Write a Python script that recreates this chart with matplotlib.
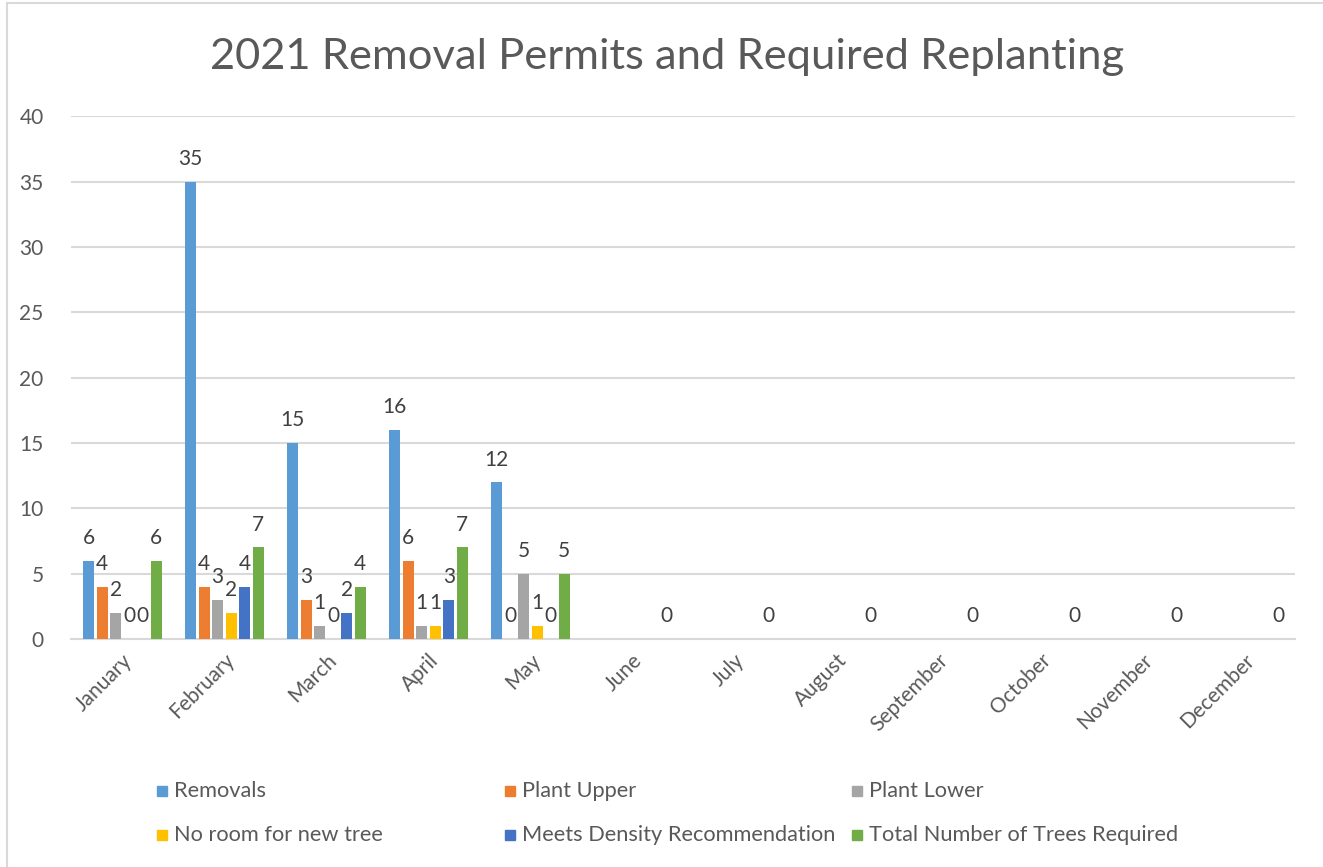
import numpy as np
import matplotlib.pyplot as plt
from matplotlib.patches import Rectangle

plt.rcParams['font.family'] = ['Lato', 'DejaVu Sans']

months = ['January', 'February', 'March', 'April', 'May', 'June', 'July',
          'August', 'September', 'October', 'November', 'December']
nan = np.nan
removals = [6, 35, 15, 16, 12, nan, nan, nan, nan, nan, nan, nan]
plant_upper = [4, 4, 3, 6, 0, nan, nan, nan, nan, nan, nan, nan]
plant_lower = [2, 3, 1, 1, 5, nan, nan, nan, nan, nan, nan, nan]
no_room = [0, 2, 0, 1, 1, nan, nan, nan, nan, nan, nan, nan]
meets_density = [0, 4, 2, 3, 0, nan, nan, nan, nan, nan, nan, nan]
total_required = [6, 7, 4, 7, 5, 0, 0, 0, 0, 0, 0, 0]

series = [
    ('Removals', removals, '#5b9bd5'),
    ('Plant Upper', plant_upper, '#ed7d31'),
    ('Plant Lower', plant_lower, '#a5a5a5'),
    ('No room for new tree', no_room, '#ffc000'),
    ('Meets Density Recommendation', meets_density, '#4472c4'),
    ('Total Number of Trees Required', total_required, '#70ad47'),
]

fig = plt.figure(figsize=(13.23, 8.67), dpi=100)
ax = fig.add_axes([0.054, 0.263, 0.925, 0.603])

x = np.arange(len(months))
pitch = 0.133
width = 0.108
for i, (name, vals, color) in enumerate(series):
    vals = np.array(vals, dtype=float)
    pos = x + (i - 2.5) * pitch
    ax.bar(pos, vals, width=width, color=color, label=name, zorder=3)
    for p, v in zip(pos, vals):
        if np.isnan(v):
            continue
        ax.annotate(f'{v:g}', (p, v), xytext=(0, 9), textcoords='offset points',
                    ha='center', va='bottom', fontsize=15, color='#404040')

ax.set_xlim(-0.5, len(months) - 0.5)
ax.set_ylim(0, 40)
ax.set_yticks(range(0, 41, 5))
ax.grid(axis='y', color='#d9d9d9', linewidth=1.5, zorder=0)
for s in ['top', 'right', 'left']:
    ax.spines[s].set_visible(False)
ax.spines['bottom'].set_color('#d9d9d9')
ax.spines['bottom'].set_linewidth(1.5)
ax.tick_params(length=0, labelsize=15, labelcolor='#595959')
ax.tick_params(axis='y', pad=20)
ax.tick_params(axis='x', pad=8)
ax.set_xticks(x)
ax.set_xticklabels(months, rotation=45, ha='right', rotation_mode='anchor')

fig.text(0.504, 0.934, '2021 Removal Permits and Required Replanting',
         ha='center', va='center', fontsize=31.3, color='#595959')

# legend, two rows of three
col_x = [157, 505, 852]
row_y = [791, 835]
W, H = 1323, 867
for i, (name, vals, color) in enumerate(series):
    cx = col_x[i % 3]
    cy = row_y[i // 3]
    fig.patches.append(Rectangle((cx / W, 1 - (cy + 5) / H), 10 / W, 10 / H,
                                 transform=fig.transFigure, color=color))
    fig.text((cx + 17) / W, 1 - cy / H, name, ha='left', va='center',
             fontsize=15.7, color='#595959')

# chart border
fig.patches.append(Rectangle((7 / W, -0.01), 1.2, 1 - 3 / H + 0.01, transform=fig.transFigure,
                             fill=False, edgecolor='#d9d9d9', linewidth=1.5))

fig.savefig('out.png', dpi=100)
